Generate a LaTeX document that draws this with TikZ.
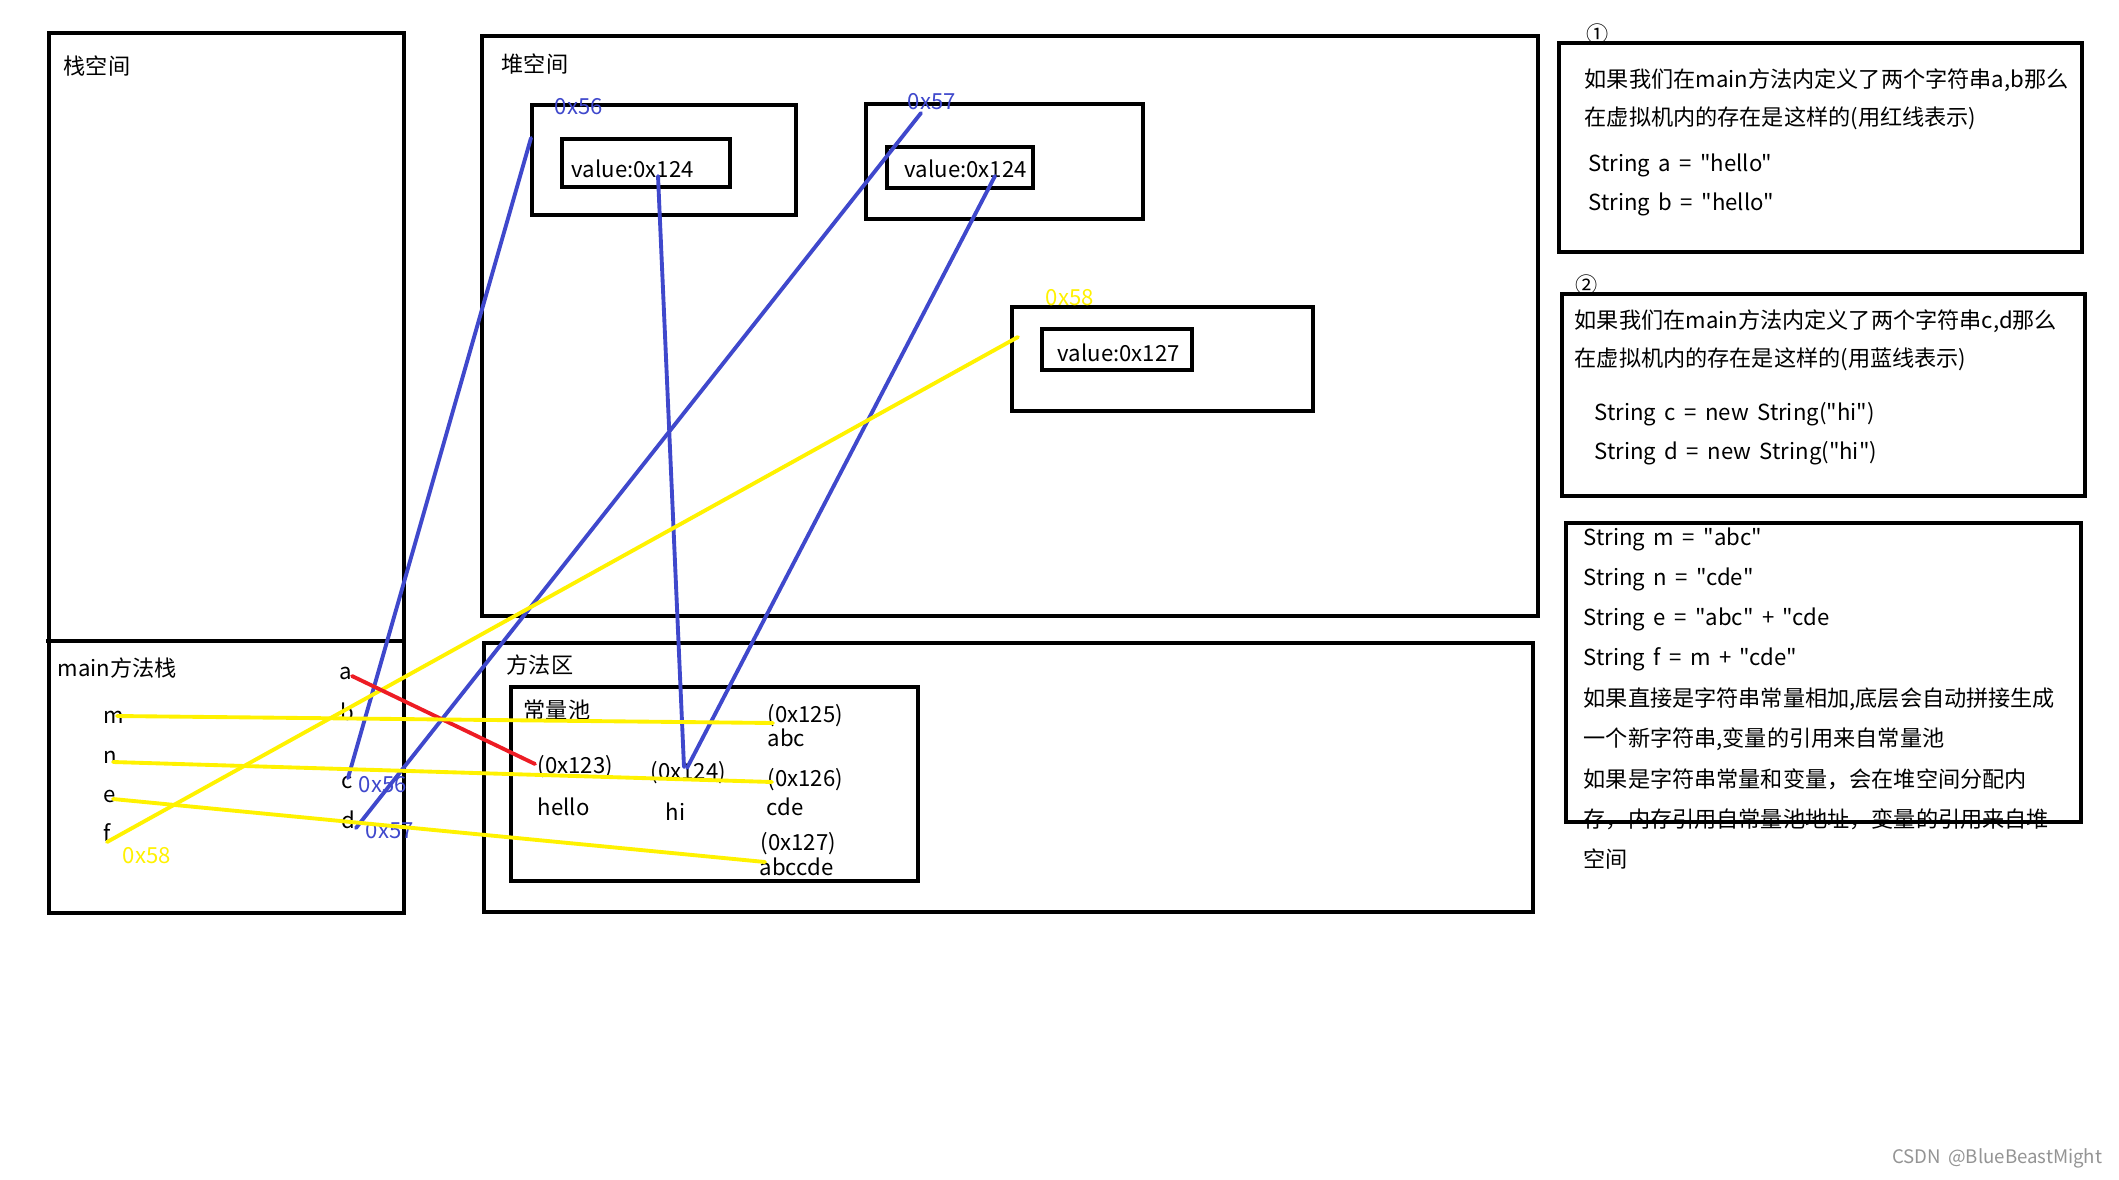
\documentclass[tikz,border=0pt]{standalone}
\usepackage{fontspec}
\newfontfamily\cjk[WordSpace=1.7]{Noto Sans CJK SC}
\definecolor{pblue}{HTML}{3F48CC}
\definecolor{pyellow}{HTML}{FFF200}
\definecolor{pred}{HTML}{ED1C24}
\begin{document}
\begin{tikzpicture}[x=0.01cm,y=-0.01cm,
  box/.style={draw=black, line width=1.14pt, anchor=north west, inner sep=0pt, outer sep=0pt},
  txt/.style={anchor=west, inner sep=0pt, font=\cjk\fontsize{6.3pt}{7.5pt}\selectfont, text=black},
  btxt/.style={txt, text=pblue},
  ytxt/.style={txt, text=pyellow},
  link/.style={line width=1.1pt, line cap=round},
  rlink/.style={link, draw=pred},
  blink/.style={link, draw=pblue},
  ylink/.style={link, draw=pyellow},
]
\useasboundingbox (0,0) rectangle (2119,1179);
\fill[white] (0,0) rectangle (2119,1179);

% ---------- boxes ----------
\node[box, minimum width=3.55cm, minimum height=8.79cm] (stack) at (49,33) {};
\coordinate (divl) at (46,641);
\coordinate (divr) at (404,641);
\draw[line width=1.14pt] (divl) -- (divr);

\node[box, minimum width=10.55cm, minimum height=5.80cm] (heap) at (482,36) {};
\node[box, minimum width=2.64cm, minimum height=1.10cm] (o56) at (532,105) {};
\node[box, minimum width=1.68cm, minimum height=0.48cm] (i56) at (562,139) {};
\node[box, minimum width=2.77cm, minimum height=1.15cm] (o57) at (866,104) {};
\node[box, minimum width=1.46cm, minimum height=0.41cm] (i57) at (887,147) {};
\node[box, minimum width=3.01cm, minimum height=1.04cm] (o58) at (1012,307) {};
\node[box, minimum width=1.50cm, minimum height=0.41cm] (i58) at (1042,329) {};

\node[box, minimum width=10.48cm, minimum height=2.69cm] (method) at (484,643) {};
\node[box, minimum width=4.07cm, minimum height=1.94cm] (pool) at (511,687) {};

\node[box, minimum width=5.23cm, minimum height=2.09cm] (box1) at (1559,43) {};
\node[box, minimum width=5.23cm, minimum height=2.02cm] (box2) at (1562,294) {};

% ---------- texts ----------
\node[txt] (tstack) at (63,66) {栈空间};
\node[txt] (theap) at (501,64) {堆空间};
\node[txt] (tmain) at (57,668) {main方法栈};
\node[txt] (va) at (339,673) {a};
\node[txt] (vb) at (340,712) {b};
\node[txt] (vc) at (341,782) {c};
\node[txt] (vd) at (341,820) {d};
\node[txt] (vm) at (103,717) {m};
\node[txt] (vn) at (103,757) {n};
\node[txt] (ve) at (103,796) {e};
\node[txt] (vf) at (103,833) {f};
\node[ytxt] (sf) at (122,856) {0x58};
\node[btxt] (sc) at (358,785) {0x56};
\node[btxt] (sd) at (365,831) {0x57};

\node[btxt] (h56) at (554,107) {0x56};
\node[btxt] (h57) at (907,102) {0x57};
\node[ytxt] (h58) at (1045,298) {0x58};
\node[txt] (v1) at (571,169) {value:0x124};
\node[txt] (v2) at (904,169) {value:0x124};
\node[txt] (v3) at (1057,353) {value:0x127};

\node[txt] (tmethod) at (506,665) {方法区};
\node[txt] (tpool) at (523,710) {常量池};
\node[txt] (p125) at (767,716) {(0x125)};
\node[txt] (sabc) at (767,738) {abc};
\node[txt] (p123) at (537,767) {(0x123)};
\node[txt] (p124) at (650,773) {(0x124)};
\node[txt] (p126) at (767,780) {(0x126)};
\node[txt] (shello) at (537,807) {hello};
\node[txt] (shi) at (665,812) {hi};
\node[txt] (scde) at (766,807) {cde};
\node[txt] (p127) at (760,844) {(0x127)};
\node[txt] (sabccde) at (759,867) {abccde};

\node[txt] (n1) at (1586,34) {①};
\node[txt] (b1l1) at (1584,80) {如果我们在main方法内定义了两个字符串a,b那么};
\node[txt] (b1l2) at (1584,118) {在虚拟机内的存在是这样的(用红线表示)};
\node[txt] (b1l3) at (1588,165) {String a = "hello"};
\node[txt] (b1l4) at (1588,204) {String b = "hello"};

\node[txt] (n2) at (1575,285) {②};
\node[txt] (b2l1) at (1574,321) {如果我们在main方法内定义了两个字符串c,d那么};
\node[txt] (b2l2) at (1574,359) {在虚拟机内的存在是这样的(用蓝线表示)};
\node[txt] (b2l3) at (1594,414) {String c = new String("hi")};
\node[txt] (b2l4) at (1594,453) {String d = new String("hi")};

\node[txt] (b3l1) at (1583,539) {String m = "abc"};
\node[txt] (b3l2) at (1583,579) {String n = "cde"};
\node[txt] (b3l3) at (1583,619) {String e = "abc" + "cde};
\node[txt] (b3l4) at (1583,659) {String f = m + "cde"};
\node[txt] (b3l5) at (1583,699) {如果直接是字符串常量相加,底层会自动拼接生成};
\node[txt] (b3l6) at (1583,739) {一个新字符串,变量的引用来自常量池};
\node[txt] (b3l7) at (1583,779) {如果是字符串常量和变量，会在堆空间分配内};
\node[txt] (b3l8) at (1583,819) {存，内存引用自常量池地址，变量的引用来自堆};
\node[txt] (b3l9) at (1583,859) {空间};
\node[box, minimum width=5.15cm, minimum height=2.99cm] (box3) at (1566,523) {};

\node[anchor=east, inner sep=0pt, font=\cjk\fontsize{5.3pt}{6pt}\selectfont, text=black!42] (wm) at (2103,1158) {CSDN @BlueBeastMight};

% ---------- connector end points ----------
\coordinate (ra) at (352,676);  \coordinate (r123) at (535,764);
\coordinate (bc) at (348,778);  \coordinate (b56) at (531,138);
\coordinate (bd) at (356,828);  \coordinate (b57) at (921,113);
\coordinate (bv1) at (658,176); \coordinate (bh1) at (684,767);
\coordinate (bv2) at (995,176); \coordinate (bh2) at (687,768);
\coordinate (ym) at (117,716);  \coordinate (y125) at (773,723);
\coordinate (yn) at (113,762);  \coordinate (y126) at (772,782);
\coordinate (ye) at (113,799);  \coordinate (y127) at (765,862);
\coordinate (yf) at (107,842);  \coordinate (y58) at (1018,337);

% ---------- connectors ----------
\draw[blink] (bc) -- (b56);
\draw[blink] (bd) -- (b57);
\draw[blink] (bv1) -- (bh1);
\draw[blink] (bv2) -- (bh2);
\draw[ylink] (yf) -- (y58);
\draw[rlink] (ra) -- (r123);
\draw[ylink] (ym) -- (y125);
\draw[ylink] (yn) -- (y126);
\draw[ylink] (ye) -- (y127);
\end{tikzpicture}
\end{document}
